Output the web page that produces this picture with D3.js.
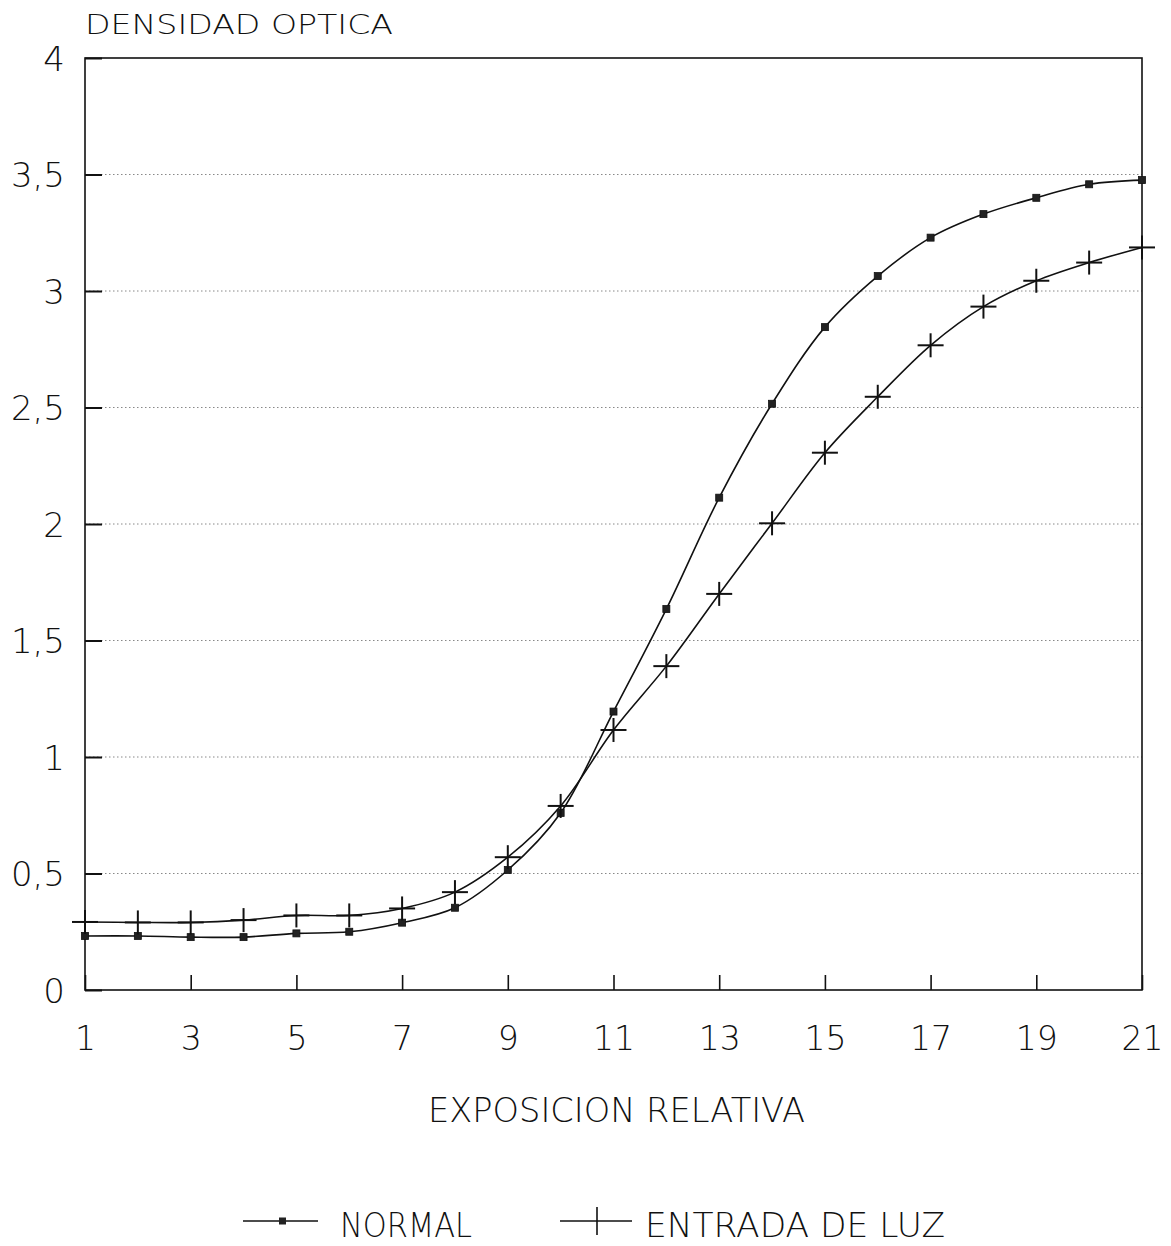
<!DOCTYPE html>
<html><head><meta charset="utf-8">
<script src="https://cdn.jsdelivr.net/npm/d3@7"></script>
<style>
body{margin:0;background:#fff;}
text{font-family:"DejaVu Sans",sans-serif;font-weight:200;fill:#111;}
</style></head>
<body>
<svg id="c" width="1171" height="1246"></svg>
<script>
const exposure = [1,2,3,4,5,6,7,8,9,10,11,12,13,14,15,16,17,18,19,20,21];
const normal = [0.232,0.232,0.227,0.227,0.243,0.25,0.289,0.353,0.515,0.76,1.195,1.635,2.113,2.516,2.845,3.064,3.229,3.33,3.40,3.458,3.476];
const entrada = [0.292,0.29,0.29,0.30,0.32,0.32,0.35,0.42,0.57,0.79,1.116,1.39,1.70,2.003,2.306,2.546,2.767,2.933,3.044,3.122,3.187];
const xTicks = [1,3,5,7,9,11,13,15,17,19,21];
const yTicks = [0,0.5,1,1.5,2,2.5,3,3.5,4];
const yTickLabels = ["0","0,5","1","1,5","2","2,5","3","3,5","4"];
const seriesNames = ["NORMAL","ENTRADA DE LUZ"];
const yTitle = "DENSIDAD OPTICA";
const xTitle = "EXPOSICION RELATIVA";

const svg = d3.select("#c");
const x = d3.scaleLinear().domain([1,21]).range([85,1142]);
const y = d3.scaleLinear().domain([0,4]).range([990,58]);

// gridlines
svg.append("g").selectAll("line").data(yTicks.filter(v=>v>0&&v<4)).join("line")
  .attr("x1",x(1)).attr("x2",x(21)).attr("y1",d=>y(d)).attr("y2",d=>y(d))
  .attr("stroke","#888").attr("stroke-width",1).attr("stroke-dasharray","1.5,2.5");

// frame
svg.append("rect").attr("x",x(1)).attr("y",y(4)).attr("width",x(21)-x(1)).attr("height",y(0)-y(4))
  .attr("fill","none").attr("stroke","#111").attr("stroke-width",1.6);

// y axis
const yAxis = d3.axisLeft(y).tickValues(yTicks).tickSize(-17).tickPadding(0)
  .tickFormat((d,i)=>yTickLabels[i]);
const gy = svg.append("g").attr("transform",`translate(${x(1)},0)`).call(yAxis);
gy.select(".domain").remove();
gy.selectAll(".tick line").attr("stroke","#111").attr("stroke-width",2);
gy.selectAll(".tick text").attr("x",-20).attr("font-size",34).attr("dy","0.36em")
  .style("font-family","'DejaVu Sans',sans-serif").style("font-weight",200).attr("fill","#111");

// x axis
const xAxis = d3.axisBottom(x).tickValues(xTicks).tickSize(-15).tickPadding(0).tickFormat(d3.format("d"));
const gx = svg.append("g").attr("transform",`translate(0,${y(0)})`).call(xAxis);
gx.select(".domain").remove();
gx.selectAll(".tick line").attr("stroke","#111").attr("stroke-width",1.6);
gx.selectAll(".tick text").attr("y",37).attr("dy","0.71em").attr("font-size",33)
  .style("font-family","'DejaVu Sans',sans-serif").style("font-weight",200).attr("fill","#111");

// titles
svg.append("text").attr("x",85).attr("y",34).attr("font-size",27).attr("textLength",308)
  .attr("lengthAdjust","spacingAndGlyphs").text(yTitle);
svg.append("text").attr("x",428).attr("y",1122).attr("font-size",34).attr("textLength",377)
  .attr("lengthAdjust","spacingAndGlyphs").text(xTitle);

// lines
const line = d3.line().x((d,i)=>x(exposure[i])).y(d=>y(d)).curve(d3.curveCatmullRom.alpha(0.5));
svg.append("path").datum(normal).attr("d",line).attr("fill","none").attr("stroke","#111").attr("stroke-width",1.6);
svg.append("path").datum(entrada).attr("d",line).attr("fill","none").attr("stroke","#111").attr("stroke-width",1.6);

// markers
svg.append("g").selectAll("rect").data(normal).join("rect")
  .attr("x",(d,i)=>x(exposure[i])-3.5).attr("y",d=>y(d)-3.5).attr("width",7).attr("height",7)
  .attr("fill","#222").attr("stroke","#111").attr("stroke-width",0.8);
const cross = svg.append("g").selectAll("g").data(entrada).join("g")
  .attr("transform",(d,i)=>`translate(${x(exposure[i])},${y(d)})`);
cross.append("line").attr("x1",-13).attr("x2",13).attr("stroke","#111").attr("stroke-width",2);
cross.append("line").attr("y1",-12).attr("y2",12).attr("stroke","#111").attr("stroke-width",2);

// legend
const lg = svg.append("g");
lg.append("line").attr("x1",243).attr("x2",318).attr("y1",1221).attr("y2",1221).attr("stroke","#111").attr("stroke-width",1.6);
lg.append("rect").attr("x",279).attr("y",1217.5).attr("width",7).attr("height",7).attr("fill","#222");
lg.append("text").attr("x",340).attr("y",1237).attr("font-size",33).attr("textLength",132)
  .attr("lengthAdjust","spacingAndGlyphs").text(seriesNames[0]);
lg.append("line").attr("x1",560).attr("x2",632).attr("y1",1221).attr("y2",1221).attr("stroke","#111").attr("stroke-width",1.6);
lg.append("line").attr("x1",597).attr("x2",597).attr("y1",1207).attr("y2",1235).attr("stroke","#111").attr("stroke-width",1.6);
lg.append("text").attr("x",645).attr("y",1237).attr("font-size",33).attr("textLength",300)
  .attr("lengthAdjust","spacingAndGlyphs").text(seriesNames[1]);
</script>
</body></html>
